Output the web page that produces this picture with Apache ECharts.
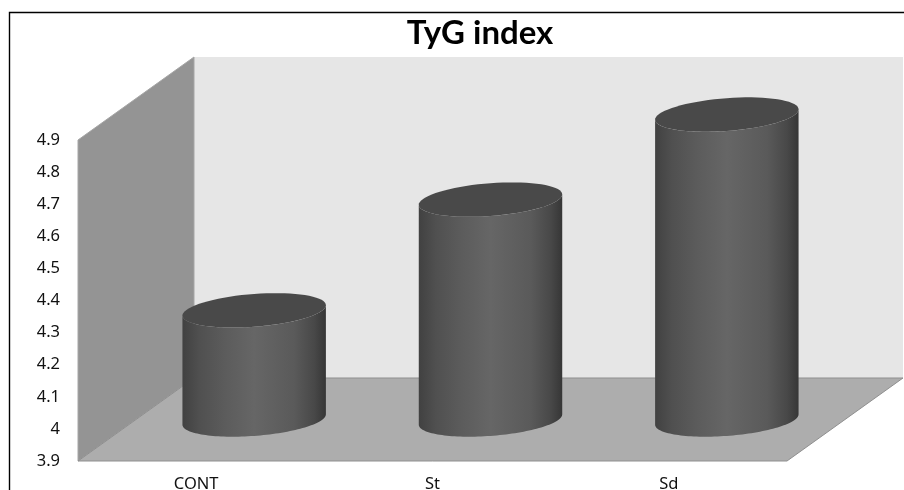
<!DOCTYPE html>
<html>
<head>
<meta charset="utf-8">
<style>html,body{margin:0;padding:0;background:#fff}#chart{width:904px;height:490px}</style>
<script src="https://cdn.jsdelivr.net/npm/echarts@6/dist/echarts.min.js"></script>
</head>
<body>
<div id="chart"></div>
<script>
// TyG index by group
const categories = ['CONT', 'St', 'Sd'];
const tygValues = [4.24, 4.585, 4.85];
const axisMin = 3.9;
const axisMax = 4.9;
const axisStep = 0.1;

// Oblique projection of the chart box: how far the back plane sits from the front plane
const DEPTH_X = 116;
const DEPTH_Y = -83;
const BAND_FILL = 0.607;   // cylinder width as a share of the category band
const ELLIPSE_RY = 16.4;   // vertical semi-axis of the cylinder caps
const ELLIPSE_SHEAR = 5.2; // tilt of the caps, right side higher

function capPoint(cx, cy, rx, t) {
  return [cx + rx * Math.cos(t), cy + ELLIPSE_RY * Math.sin(t) - ELLIPSE_SHEAR * Math.cos(t)];
}

function capArc(cx, cy, rx, from, to) {
  const pts = [];
  const steps = 72;
  for (let i = 0; i <= steps; i++) {
    pts.push(capPoint(cx, cy, rx, from + (to - from) * i / steps));
  }
  return pts;
}

// Back wall, side wall and floor of the box, taken from the grid rectangle
function renderWalls(params) {
  const c = params.coordSys;
  const l = c.x, r = c.x + c.width, t = c.y, b = c.y + c.height;
  const dx = DEPTH_X, dy = DEPTH_Y;
  return {
    type: 'group',
    children: [
      { type: 'polygon', shape: { points: [[l + dx, t + dy], [r + dx, t + dy], [r + dx, b + dy], [l + dx, b + dy]] },
        style: { fill: '#e6e6e6' } },
      { type: 'polygon', shape: { points: [[l, t], [l + dx, t + dy], [l + dx, b + dy], [l, b]] },
        style: { fill: '#949494', stroke: '#a6a6a6', lineWidth: 1 } },
      { type: 'polygon', shape: { points: [[l, b], [l + dx, b + dy], [r + dx, b + dy], [r, b]] },
        style: { fill: '#adadad', stroke: '#8f8f8f', lineWidth: 1 } }
    ]
  };
}

// One cylinder standing at mid depth of the box
function renderCylinder(params, api) {
  const top = api.coord([api.value(0), api.value(1)]);
  const base = api.coord([api.value(0), axisMin]);
  const rx = api.size([1, 0])[0] * BAND_FILL / 2;
  const cx = top[0] + DEPTH_X / 2;
  const topY = top[1] + DEPTH_Y / 2;
  const baseY = base[1] + DEPTH_Y / 2;

  const body = capArc(cx, baseY, rx, 0, Math.PI)
    .concat(capArc(cx, topY, rx, Math.PI, 0));

  return {
    type: 'group',
    children: [
      {
        type: 'polygon',
        shape: { points: body },
        style: {
          fill: {
            type: 'linear', x: 0, y: 0, x2: 1, y2: 0,
            colorStops: [
              { offset: 0, color: '#414141' },
              { offset: 0.12, color: '#505050' },
              { offset: 0.3, color: '#5c5c5c' },
              { offset: 0.5, color: '#666666' },
              { offset: 0.78, color: '#5a5a5a' },
              { offset: 0.92, color: '#484848' },
              { offset: 1, color: '#363636' }
            ]
          }
        }
      },
      {
        type: 'polygon',
        shape: { points: capArc(cx, topY, rx, 0, Math.PI * 2) },
        style: { fill: '#494949' }
      }
    ]
  };
}

const chart = echarts.init(document.getElementById('chart'), null, { renderer: 'canvas' });
chart.setOption({
  animation: false,
  backgroundColor: '#ffffff',
  title: {
    text: 'TyG index',
    left: 475,
    top: 12,
    textAlign: 'center',
    textStyle: { fontFamily: 'Lato', fontWeight: 'bold', fontSize: 33, color: '#000000' }
  },
  grid: { left: 78, right: 117, top: 140, bottom: 29, outerBoundsMode: 'none' },
  xAxis: {
    type: 'category',
    data: categories,
    axisLine: { show: false },
    axisTick: { show: false },
    axisLabel: { fontFamily: 'Noto Sans', fontSize: 16.5, color: '#111111', margin: 15 }
  },
  yAxis: {
    type: 'value',
    min: axisMin,
    max: axisMax,
    interval: axisStep,
    axisLine: { show: false },
    axisTick: { show: false },
    splitLine: { show: false },
    axisLabel: { fontFamily: 'Noto Sans', fontSize: 16.5, color: '#111111', margin: 18, padding: [3, 0, 0, 0] }
  },
  graphic: [{
    type: 'polyline',
    silent: true,
    shape: { points: [[9.5, 490], [9.5, 12.5], [904, 12.5]] },
    style: { stroke: '#000000', lineWidth: 1.4, fill: null }
  }],
  series: [
    {
      type: 'custom',
      coordinateSystem: 'cartesian2d',
      silent: true,
      z: 1,
      data: [[0, axisMin]],
      renderItem: renderWalls
    },
    {
      type: 'custom',
      name: 'TyG index',
      coordinateSystem: 'cartesian2d',
      z: 2,
      encode: { x: 0, y: 1 },
      data: tygValues.map((v, i) => [i, v]),
      renderItem: renderCylinder
    }
  ]
});
</script>
</body>
</html>
